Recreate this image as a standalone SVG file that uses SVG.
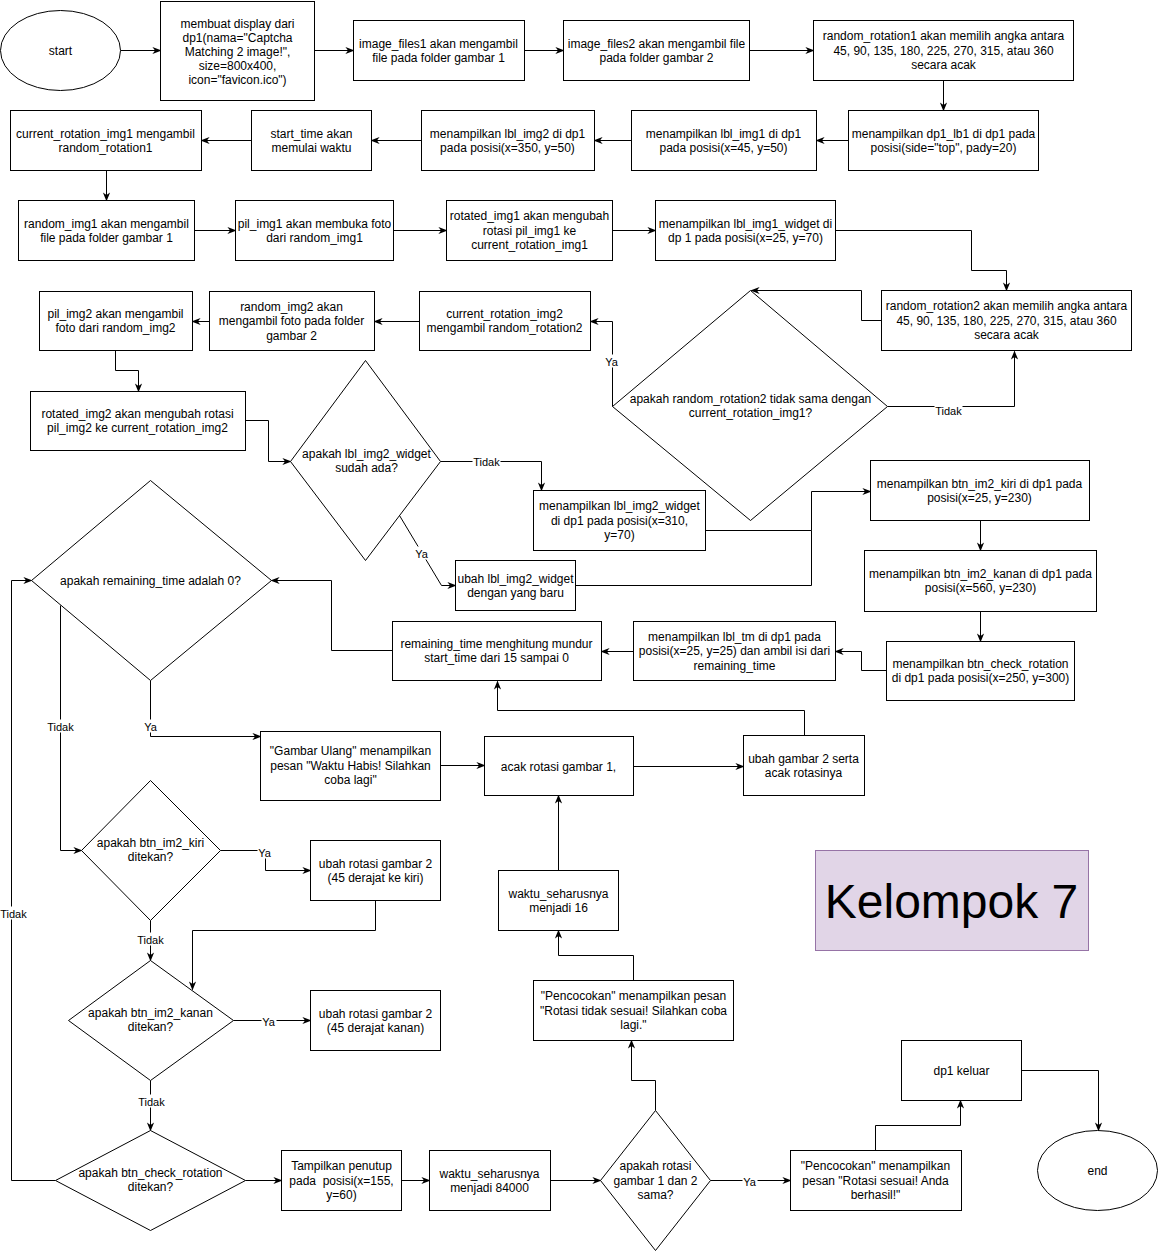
<svg xmlns="http://www.w3.org/2000/svg" width="1158" height="1252" viewBox="0 0 1158 1252">
<style>
.n{fill:#fff;stroke:#000;stroke-width:1}
.t{font-family:"Liberation Sans",Arial,Helvetica,sans-serif;font-size:12px;fill:#000;text-anchor:middle;white-space:pre}
.c{fill:none;stroke:#000;stroke-width:1;marker-end:url(#arr)}
.p{fill:none;stroke:#000;stroke-width:1}
.lb{fill:#fff}
.lt{font-family:"Liberation Sans",Arial,Helvetica,sans-serif;font-size:11px;fill:#000;text-anchor:middle}
</style>
<defs>
<marker id="arr" viewBox="0 0 10 10" refX="9" refY="5" markerWidth="9" markerHeight="9" markerUnits="userSpaceOnUse" orient="auto">
<path d="M0,1 L10,5 L0,9 L3,5 z" fill="#000"/>
</marker>
</defs>
<rect x="0" y="0" width="1158" height="1252" fill="#fff"/>
<g transform="translate(0.5,0.5)">
<g id="connectors">
<path class="c" d="M120,50 H160"/>
<path class="c" d="M314,50 H353"/>
<path class="c" d="M524,50 H563"/>
<path class="c" d="M749,50 H813"/>
<path class="c" d="M943,80 V110"/>
<path class="c" d="M848,140 H816"/>
<path class="c" d="M631,140 H594"/>
<path class="c" d="M421,140 H371"/>
<path class="c" d="M251,140 H201"/>
<path class="c" d="M106,170 V200"/>
<path class="c" d="M194,230 H235"/>
<path class="c" d="M393,230 H446"/>
<path class="c" d="M612,230 H655"/>
<path class="c" d="M835,230 H971 V270 H1006 V290"/>
<path class="c" d="M881,320 H861 V290 H751"/>
<path class="c" d="M887,406 H1014 V351"/>
<path class="c" d="M612,406 V321 H590"/>
<path class="c" d="M419,321 H374"/>
<path class="c" d="M209,321 H192"/>
<path class="c" d="M115,350 V370 H138 V391"/>
<path class="c" d="M245,420 H268 V461 H290"/>
<path class="c" d="M440,461 H541 V490"/>
<path class="c" d="M399,515 L441,585 H455"/>
<path class="c" d="M705,530 H811 V491 H870"/>
<path class="p" d="M575,585 H811 V530"/>
<path class="c" d="M980,520 V550"/>
<path class="c" d="M980,611 V641"/>
<path class="c" d="M886,670 H861 V651 H835"/>
<path class="c" d="M633,651 H601"/>
<path class="c" d="M392,650 H331 V580 H271"/>
<path class="c" d="M150,680 V736 H260"/>
<path class="c" d="M60,605 V850 H81"/>
<path class="c" d="M440,765 H484"/>
<path class="c" d="M633,766 H743"/>
<path class="c" d="M804,735 V710 H497 V681"/>
<path class="c" d="M220,850 H265 V870 H310"/>
<path class="c" d="M375,900 V930 H192 V989"/>
<path class="c" d="M150,920 V960"/>
<path class="c" d="M233,1020 H310"/>
<path class="c" d="M150,1080 V1130"/>
<path class="c" d="M55,1180 H11 V580 H31"/>
<path class="c" d="M245,1180 H281"/>
<path class="c" d="M401,1180 H429"/>
<path class="c" d="M550,1180 H600"/>
<path class="c" d="M655,1110 V1080 H631 V1040"/>
<path class="c" d="M633,980 V955 H558 V930"/>
<path class="c" d="M558,870 V795"/>
<path class="c" d="M710,1180 H790"/>
<path class="c" d="M875,1150 V1125 H960 V1100"/>
<path class="c" d="M1021,1070 H1098 V1130"/>
<g id="edge-labels">
<rect class="lb" x="604" y="354" width="15" height="13"/><text class="lt" x="611" y="365">Ya</text>
<rect class="lb" x="934" y="403" width="28" height="13"/><text class="lt" x="948" y="414">Tidak</text>
<rect class="lb" x="472" y="455" width="28" height="13"/><text class="lt" x="486" y="465">Tidak</text>
<rect class="lb" x="414" y="546" width="15" height="13"/><text class="lt" x="421" y="557">Ya</text>
<rect class="lb" x="143" y="719" width="15" height="13"/><text class="lt" x="150" y="730">Ya</text>
<rect class="lb" x="46" y="719" width="28" height="13"/><text class="lt" x="60" y="730">Tidak</text>
<rect class="lb" x="0" y="906" width="26" height="13"/><text class="lt" x="13" y="917">Tidak</text>
<rect class="lb" x="257" y="845" width="15" height="13"/><text class="lt" x="264" y="856">Ya</text>
<rect class="lb" x="136" y="932" width="28" height="13"/><text class="lt" x="150" y="943">Tidak</text>
<rect class="lb" x="261" y="1014" width="15" height="13"/><text class="lt" x="268" y="1025">Ya</text>
<rect class="lb" x="137" y="1094" width="28" height="13"/><text class="lt" x="151" y="1105">Tidak</text>
<rect class="lb" x="742" y="1174" width="15" height="13"/><text class="lt" x="749" y="1185">Ya</text>
</g>
</g>
<g id="start"><ellipse class="n" cx="60" cy="50" rx="60" ry="40"/><text class="t" x="60" y="54">start</text></g>
<g id="n-display"><rect class="n" x="160" y="1" width="154" height="99"/><text class="t" x="237" y="27"><tspan x="237">membuat display dari</tspan><tspan x="237" dy="14">dp1(nama="Captcha</tspan><tspan x="237" dy="14">Matching 2 image!",</tspan><tspan x="237" dy="14">size=800x400,</tspan><tspan x="237" dy="14">icon="favicon.ico")</tspan></text></g>
<g id="n-files1"><rect class="n" x="353" y="20" width="171" height="60"/><text class="t" x="438" y="47"><tspan x="438">image_files1 akan mengambil</tspan><tspan x="438" dy="14.5">file pada folder gambar 1</tspan></text></g>
<g id="n-files2"><rect class="n" x="563" y="20" width="186" height="60"/><text class="t" x="656" y="47"><tspan x="656">image_files2 akan mengambil file</tspan><tspan x="656" dy="14.5">pada folder gambar 2</tspan></text></g>
<g id="n-rot1"><rect class="n" x="813" y="20" width="260" height="60"/><text class="t" x="943" y="39.5"><tspan x="943">random_rotation1 akan memilih angka antara</tspan><tspan x="943" dy="14.5">45, 90, 135, 180, 225, 270, 315, atau 360</tspan><tspan x="943" dy="14.5">secara acak</tspan></text></g>
<g id="n-lb1"><rect class="n" x="848" y="110" width="190" height="60"/><text class="t" x="943" y="137"><tspan x="943">menampilkan dp1_lb1 di dp1 pada</tspan><tspan x="943" dy="14.5">posisi(side="top", pady=20)</tspan></text></g>
<g id="n-lblimg1"><rect class="n" x="631" y="110" width="185" height="60"/><text class="t" x="723" y="137"><tspan x="723">menampilkan lbl_img1 di dp1</tspan><tspan x="723" dy="14.5">pada posisi(x=45, y=50)</tspan></text></g>
<g id="n-lblimg2"><rect class="n" x="421" y="110" width="173" height="60"/><text class="t" x="507" y="137"><tspan x="507">menampilkan lbl_img2 di dp1</tspan><tspan x="507" dy="14.5">pada posisi(x=350, y=50)</tspan></text></g>
<g id="n-starttime"><rect class="n" x="251" y="110" width="120" height="60"/><text class="t" x="311" y="137"><tspan x="311">start_time akan</tspan><tspan x="311" dy="14.5">memulai waktu</tspan></text></g>
<g id="n-currot1"><rect class="n" x="10" y="110" width="191" height="60"/><text class="t" x="105" y="137"><tspan x="105">current_rotation_img1 mengambil</tspan><tspan x="105" dy="14.5">random_rotation1</tspan></text></g>
<g id="n-randimg1"><rect class="n" x="18" y="200" width="176" height="60"/><text class="t" x="106" y="227"><tspan x="106">random_img1 akan mengambil</tspan><tspan x="106" dy="14.5">file pada folder gambar 1</tspan></text></g>
<g id="n-pilimg1"><rect class="n" x="235" y="200" width="158" height="60"/><text class="t" x="314" y="227"><tspan x="314">pil_img1 akan membuka foto</tspan><tspan x="314" dy="14.5">dari random_img1</tspan></text></g>
<g id="n-rotimg1"><rect class="n" x="446" y="200" width="166" height="60"/><text class="t" x="529" y="219.5"><tspan x="529">rotated_img1 akan mengubah</tspan><tspan x="529" dy="14.5">rotasi pil_img1 ke</tspan><tspan x="529" dy="14.5">current_rotation_img1</tspan></text></g>
<g id="n-widget1"><rect class="n" x="655" y="200" width="180" height="60"/><text class="t" x="745" y="227"><tspan x="745">menampilkan lbl_img1_widget di</tspan><tspan x="745" dy="14.5">dp 1 pada posisi(x=25, y=70)</tspan></text></g>
<g id="n-rot2"><rect class="n" x="881" y="290" width="250" height="60"/><text class="t" x="1006" y="309.5"><tspan x="1006">random_rotation2 akan memilih angka antara</tspan><tspan x="1006" dy="14.5">45, 90, 135, 180, 225, 270, 315, atau 360</tspan><tspan x="1006" dy="14.5">secara acak</tspan></text></g>
<g id="d-rot2"><path class="n" d="M750,290 L887,406 L750,520 L612,406 Z"/><text class="t" x="750" y="402"><tspan x="750">apakah random_rotation2 tidak sama dengan</tspan><tspan x="750" dy="14.5">current_rotation_img1?</tspan></text></g>
<g id="n-currot2"><rect class="n" x="419" y="291" width="171" height="59"/><text class="t" x="504" y="317"><tspan x="504">current_rotation_img2</tspan><tspan x="504" dy="14.5">mengambil random_rotation2</tspan></text></g>
<g id="n-randimg2"><rect class="n" x="209" y="291" width="165" height="59"/><text class="t" x="291" y="310"><tspan x="291">random_img2 akan</tspan><tspan x="291" dy="14.5">mengambil foto pada folder</tspan><tspan x="291" dy="14.5">gambar 2</tspan></text></g>
<g id="n-pilimg2"><rect class="n" x="39" y="291" width="153" height="59"/><text class="t" x="115" y="317"><tspan x="115">pil_img2 akan mengambil</tspan><tspan x="115" dy="14.5">foto dari random_img2</tspan></text></g>
<g id="n-rotimg2"><rect class="n" x="30" y="391" width="215" height="59"/><text class="t" x="137" y="417"><tspan x="137">rotated_img2 akan mengubah rotasi</tspan><tspan x="137" dy="14.5">pil_img2 ke current_rotation_img2</tspan></text></g>
<g id="d-widget2"><path class="n" d="M365,360 L440,461 L365,560 L290,461 Z"/><text class="t" x="366" y="457"><tspan x="366">apakah lbl_img2_widget</tspan><tspan x="366" dy="14.5">sudah ada?</tspan></text></g>
<g id="n-widget2"><rect class="n" x="533" y="490" width="172" height="60"/><text class="t" x="619" y="509.5"><tspan x="619">menampilkan lbl_img2_widget</tspan><tspan x="619" dy="14.5">di dp1 pada posisi(x=310,</tspan><tspan x="619" dy="14.5">y=70)</tspan></text></g>
<g id="n-ubahwidget"><rect class="n" x="455" y="560" width="120" height="50"/><text class="t" x="515" y="582"><tspan x="515">ubah lbl_img2_widget</tspan><tspan x="515" dy="14.5">dengan yang baru</tspan></text></g>
<g id="n-kiri"><rect class="n" x="870" y="460" width="219" height="60"/><text class="t" x="979" y="487"><tspan x="979">menampilkan btn_im2_kiri di dp1 pada</tspan><tspan x="979" dy="14.5">posisi(x=25, y=230)</tspan></text></g>
<g id="n-kanan"><rect class="n" x="864" y="550" width="232" height="61"/><text class="t" x="980" y="577"><tspan x="980">menampilkan btn_im2_kanan di dp1 pada</tspan><tspan x="980" dy="14.5">posisi(x=560, y=230)</tspan></text></g>
<g id="n-check"><rect class="n" x="886" y="641" width="188" height="59"/><text class="t" x="980" y="667"><tspan x="980">menampilkan btn_check_rotation</tspan><tspan x="980" dy="14.5">di dp1 pada posisi(x=250, y=300)</tspan></text></g>
<g id="n-lbltm"><rect class="n" x="633" y="621" width="202" height="59"/><text class="t" x="734" y="640"><tspan x="734">menampilkan lbl_tm di dp1 pada</tspan><tspan x="734" dy="14.5">posisi(x=25, y=25) dan ambil isi dari</tspan><tspan x="734" dy="14.5">remaining_time</tspan></text></g>
<g id="n-remaining"><rect class="n" x="392" y="621" width="209" height="59"/><text class="t" x="496" y="647"><tspan x="496">remaining_time menghitung mundur</tspan><tspan x="496" dy="14.5">start_time dari 15 sampai 0</tspan></text></g>
<g id="d-remaining"><path class="n" d="M150,480 L271,580 L150,680 L31,580 Z"/><text class="t" x="150" y="584">apakah remaining_time adalah 0?</text></g>
<g id="n-gambarulang"><rect class="n" x="260" y="731" width="180" height="69"/><text class="t" x="350" y="754.5"><tspan x="350">"Gambar Ulang" menampilkan</tspan><tspan x="350" dy="14.5">pesan "Waktu Habis! Silahkan</tspan><tspan x="350" dy="14.5">coba lagi"</tspan></text></g>
<g id="n-acak1"><rect class="n" x="484" y="736" width="149" height="59"/><text class="t" x="558" y="770">acak rotasi gambar 1,</text></g>
<g id="n-ubah2"><rect class="n" x="743" y="735" width="121" height="60"/><text class="t" x="803" y="762"><tspan x="803">ubah gambar 2 serta</tspan><tspan x="803" dy="14.5">acak rotasinya</tspan></text></g>
<g id="d-kiri"><path class="n" d="M150,780 L220,850 L150,920 L81,850 Z"/><text class="t" x="150" y="846"><tspan x="150">apakah btn_im2_kiri</tspan><tspan x="150" dy="14.5">ditekan?</tspan></text></g>
<g id="n-rotkiri"><rect class="n" x="310" y="840" width="130" height="60"/><text class="t" x="375" y="867"><tspan x="375">ubah rotasi gambar 2</tspan><tspan x="375" dy="14.5">(45 derajat ke kiri)</tspan></text></g>
<g id="d-kanan"><path class="n" d="M150,960 L233,1020 L150,1080 L68,1020 Z"/><text class="t" x="150" y="1016"><tspan x="150">apakah btn_im2_kanan</tspan><tspan x="150" dy="14.5">ditekan?</tspan></text></g>
<g id="n-rotkanan"><rect class="n" x="310" y="990" width="130" height="60"/><text class="t" x="375" y="1017"><tspan x="375">ubah rotasi gambar 2</tspan><tspan x="375" dy="14.5">(45 derajat kanan)</tspan></text></g>
<g id="d-check"><path class="n" d="M150,1130 L245,1180 L150,1230 L55,1180 Z"/><text class="t" x="150" y="1176"><tspan x="150">apakah btn_check_rotation</tspan><tspan x="150" dy="14.5">ditekan?</tspan></text></g>
<g id="n-penutup"><rect class="n" x="281" y="1150" width="120" height="60"/><text class="t" x="341" y="1169.5"><tspan x="341">Tampilkan penutup</tspan><tspan x="341" dy="14.5">pada  posisi(x=155,</tspan><tspan x="341" dy="14.5">y=60)</tspan></text></g>
<g id="n-84000"><rect class="n" x="429" y="1150" width="121" height="60"/><text class="t" x="489" y="1177"><tspan x="489">waktu_seharusnya</tspan><tspan x="489" dy="14.5">menjadi 84000</tspan></text></g>
<g id="d-sama"><path class="n" d="M655,1110 L710,1180 L655,1250 L600,1180 Z"/><text class="t" x="655" y="1169.5"><tspan x="655">apakah rotasi</tspan><tspan x="655" dy="14.5">gambar 1 dan 2</tspan><tspan x="655" dy="14.5">sama?</tspan></text></g>
<g id="n-tidaksesuai"><rect class="n" x="533" y="980" width="200" height="60"/><text class="t" x="633" y="999.5"><tspan x="633">"Pencocokan" menampilkan pesan</tspan><tspan x="633" dy="14.5">"Rotasi tidak sesuai! Silahkan coba</tspan><tspan x="633" dy="14.5">lagi."</tspan></text></g>
<g id="n-16"><rect class="n" x="498" y="870" width="120" height="60"/><text class="t" x="558" y="897"><tspan x="558">waktu_seharusnya</tspan><tspan x="558" dy="14.5">menjadi 16</tspan></text></g>
<g id="n-sesuai"><rect class="n" x="790" y="1150" width="171" height="60"/><text class="t" x="875" y="1169.5"><tspan x="875">"Pencocokan" menampilkan</tspan><tspan x="875" dy="14.5">pesan "Rotasi sesuai! Anda</tspan><tspan x="875" dy="14.5">berhasil!"</tspan></text></g>
<g id="n-keluar"><rect class="n" x="901" y="1040" width="120" height="60"/><text class="t" x="961" y="1074">dp1 keluar</text></g>
<g id="end"><ellipse class="n" cx="1097" cy="1170" rx="60" ry="40"/><text class="t" x="1097" y="1174">end</text></g>
<g id="kelompok"><rect x="815" y="850" width="273" height="100" fill="#e1d5e7" stroke="#9673a6" stroke-width="1"/><text x="951" y="917" font-family="Liberation Sans, Arial, Helvetica, sans-serif" font-size="48" fill="#000" text-anchor="middle">Kelompok 7</text></g>
</g>
</svg>
